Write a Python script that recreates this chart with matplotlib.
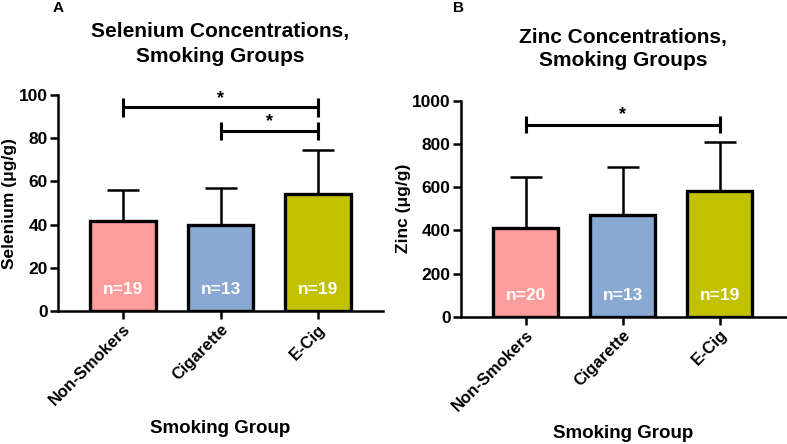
import matplotlib
matplotlib.use("Agg")
import matplotlib.pyplot as plt

plt.rcParams['font.family'] = ['Liberation Sans', 'DejaVu Sans']
plt.rcParams['font.weight'] = 'bold'

categories = ["Non-Smokers", "Cigarette", "E-Cig"]
colors = ["#FF9D9D", "#8AA9D2", "#C2C100"]

se_mean = [41.8, 39.8, 54.2]
se_sd = [14.1, 17.1, 20.2]
se_n = ["n=19", "n=13", "n=19"]

zn_mean = [412, 471, 583]
zn_sd = [233, 223, 226]
zn_n = ["n=20", "n=13", "n=19"]

fig = plt.figure(figsize=(7.87, 4.44), dpi=100)

def panel(rect, means, sds, ns, ylim, yticks, ylabel, brackets, nlabel_y, xlim):
    ax = fig.add_axes(rect)
    x = list(range(len(categories)))
    ax.bar(x, means, width=0.67, color=colors, edgecolor="black", linewidth=2.4, zorder=3)
    ax.errorbar(x, means, yerr=[[0]*len(means), sds], fmt="none", ecolor="black",
                elinewidth=1.8, capsize=11.5, capthick=1.8, zorder=2)
    for xi, lab in zip(x, ns):
        ax.text(xi, nlabel_y, lab, color="white", ha="center", va="center",
                fontsize=12.5, fontweight="bold", zorder=4)
    for (i, j, yb, ytop, ybot, ystar) in brackets:
        ax.plot([i, j], [yb, yb], color="black", lw=2.2, clip_on=False, solid_capstyle="butt")
        ax.plot([i, i], [ybot, ytop], color="black", lw=2.2, clip_on=False, solid_capstyle="butt")
        ax.plot([j, j], [ybot, ytop], color="black", lw=2.2, clip_on=False, solid_capstyle="butt")
        ax.text((i + j) / 2, ystar, "*", ha="center", va="center", fontsize=13, fontweight="bold")
    ax.set_xlim(*xlim)
    ax.set_ylim(*ylim)
    ax.set_yticks(yticks)
    ax.set_xticks(x)
    ax.set_xticklabels(categories, rotation=45, ha="right", rotation_mode="anchor",
                       fontsize=12, fontweight="bold")
    for lab in ax.get_yticklabels():
        lab.set_fontsize(12.5)
        lab.set_fontweight("bold")
    for s in ["top", "right"]:
        ax.spines[s].set_visible(False)
    for s in ["left", "bottom"]:
        ax.spines[s].set_linewidth(1.8)
    ax.tick_params(axis="both", width=1.8, length=5.5, pad=2)
    ax.set_ylabel(ylabel, fontsize=12.5, fontweight="bold", labelpad=1)
    return ax

axA = panel([0.0737, 0.2995, 0.413, 0.4865], se_mean, se_sd, se_n, (0, 100), [0, 20, 40, 60, 80, 100],
            "Selenium (\u03bcg/g)",
            [(0, 2, 94.3, 98.5, 90, 98.5), (1, 2, 83.5, 87.6, 79.2, 87.8)], 10, (-0.667, 2.667))
axB = panel([0.5858, 0.2867, 0.4135, 0.4865], zn_mean, zn_sd, zn_n, (0, 1000), [0, 200, 400, 600, 800, 1000],
            "Zinc (\u03bcg/g)",
            [(0, 2, 887, 929, 849, 935)], 100, (-0.67, 2.69))

tfs = 15
fig.text(220/787, 1-32/444, "Selenium Concentrations,", ha="center", va="center", fontsize=tfs, fontweight="bold")
fig.text(220/787, 1-57/444, "Smoking Groups", ha="center", va="center", fontsize=tfs, fontweight="bold")
fig.text(623/787, 1-37/444, "Zinc Concentrations,", ha="center", va="center", fontsize=tfs, fontweight="bold")
fig.text(623/787, 1-60/444, "Smoking Groups", ha="center", va="center", fontsize=tfs, fontweight="bold")
fig.text(220/787, 1-428/444, "Smoking Group", ha="center", va="center", fontsize=13.5, fontweight="bold")
fig.text(623/787, 1-433/444, "Smoking Group", ha="center", va="center", fontsize=13.5, fontweight="bold")
fig.text(58/787, 1-8/444, "A", ha="center", va="center", fontsize=11, fontweight="bold")
fig.text(458/787, 1-8/444, "B", ha="center", va="center", fontsize=11, fontweight="bold")

fig.savefig("out.png", dpi=100)
